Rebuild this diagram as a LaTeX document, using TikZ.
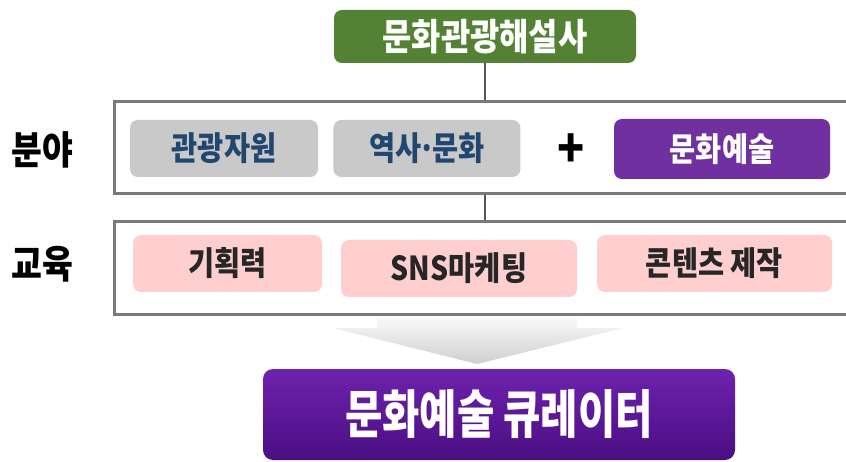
\documentclass[tikz,border=0pt]{standalone}
\usepackage{fontspec}
\setmainfont{Noto Sans CJK KR}[FakeStretch=0.86]
\newfontfamily\condfont{Noto Sans CJK KR}[FakeStretch=0.78]
\usetikzlibrary{positioning}
\definecolor{leaf}{HTML}{548235}
\definecolor{plum}{HTML}{7030A0}
\definecolor{plumtop}{HTML}{6E22AE}
\definecolor{plumbot}{HTML}{4A0E82}
\definecolor{stone}{HTML}{C9C9C9}
\definecolor{navy}{HTML}{1F4770}
\definecolor{blush}{HTML}{FFCFCF}
\definecolor{frame}{HTML}{7A7A7A}
\definecolor{wire}{HTML}{555555}

\begin{document}
\begin{tikzpicture}[x=1pt, y=-1pt,
      titlebox/.style={fill=leaf, rounded corners=8pt, minimum width=302pt, minimum height=53pt, inner sep=0pt,
                       text=white, font=\fontsize{37}{40}\selectfont\bfseries},
      panel/.style={draw=frame, line width=2.6pt, fill=white, minimum width=770pt, inner sep=0pt},
      rowlabel/.style={font=\fontsize{39}{42}\selectfont\bfseries, inner sep=0pt},
      graybox/.style={fill=stone, rounded corners=8pt, minimum height=57pt, inner sep=0pt,
                      text=navy, font=\fontsize{33}{36}\selectfont\bfseries},
      artbox/.style={fill=plum, rounded corners=8pt, minimum width=216pt, minimum height=60pt, inner sep=0pt,
                     text=white, font=\fontsize{33}{36}\selectfont\bfseries},
      pinkbox/.style={fill=blush, rounded corners=8pt, minimum height=57pt, inner sep=0pt,
                      text=black!85, font=\fontsize{33}{36}\selectfont\bfseries},
      resultbox/.style={top color=plumtop, bottom color=plumbot, rounded corners=10pt, minimum width=472pt,
                        minimum height=91pt, inner sep=0pt, text=white, font=\condfont\fontsize{52}{56}\selectfont\bfseries},
      link/.style={wire, line width=2pt},
      bigarrow/.style={top color=gray!4, bottom color=gray!38}]
    \useasboundingbox[fill=white] (0,0) rectangle (846,462);
    \node[titlebox] (top) at (485,36.5) {문화관광해설사};
    \node[panel, minimum height=92pt, anchor=north west] (field) at (113,100) {};
    \node[panel, minimum height=93pt, anchor=north west] (edu) at (113,220) {};
    \node[rowlabel] (lfield) at (42,150) {분야};
    \node[rowlabel] (ledu) at (42,264) {교육};
    \node[graybox, minimum width=188pt] (tour) at (224,148.5) {관광자원};
    \node[graybox, minimum width=187pt, right=15pt of tour] (hist) {역사\kern-3pt·\kern-3pt문화};
    \node[rowlabel, font=\fontsize{52}{52}\selectfont\bfseries] (plus) at (571,151) {+};
    \node[artbox] (art) at (722,149) {문화예술};
    \node[pinkbox, minimum width=189pt] (plan) at (227.5,263.5) {기획력};
    \node[pinkbox, minimum width=236pt] (sns) at (459,268.5) {SNS마케팅};
    \node[pinkbox, minimum width=235pt] (cont) at (714.5,263.5) {콘텐츠 제작};
    \node[resultbox] (cur) at (499,414.5) {문화예술 큐레이터};
    \draw[link] (top.south) -- (top.south |- field.north);
    \draw[link] (top.south |- field.south) -- (top.south |- edu.north);
    % big down arrow between the panels and the result
    \path[bigarrow] (377,317) -- (577,317) -- (577,328) -- (623,328) -- (477,364) -- (333,328) -- (377,328) -- cycle;
  \end{tikzpicture}
\end{document}
